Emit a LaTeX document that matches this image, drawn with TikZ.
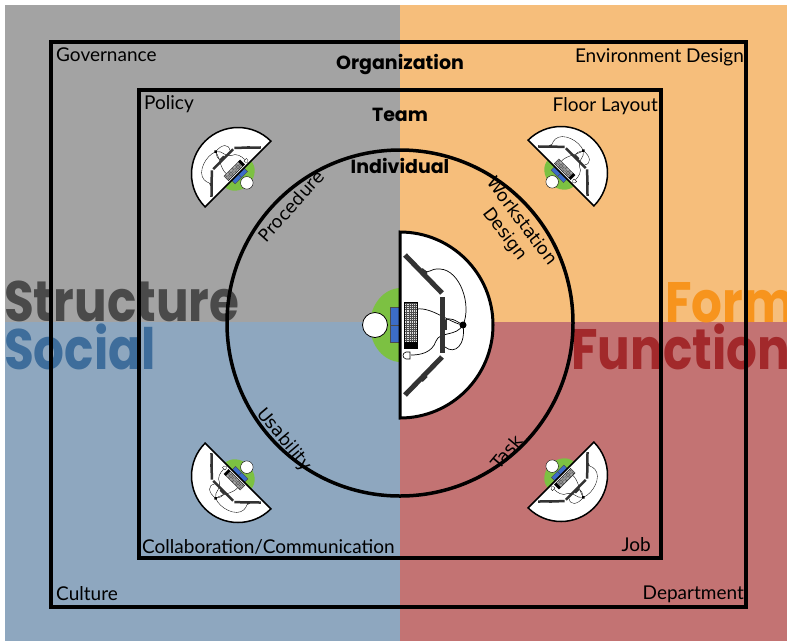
\documentclass[tikz,border=0pt]{standalone}
\usepackage{fontspec}
\newfontfamily\labelfont{Lato}
\newfontfamily\headfont{Poppins}
\newfontfamily\arcfont{DejaVu Sans}
\newfontfamily\bigfont[FakeStretch=0.85]{Poppins}

\definecolor{qgray}{HTML}{A3A3A3}
\definecolor{qorange}{HTML}{F6BE7B}
\definecolor{qblue}{HTML}{8EA7BF}
\definecolor{qred}{HTML}{C37373}
\definecolor{structurecol}{HTML}{4A4A4A}
\definecolor{socialcol}{HTML}{3E6D9B}
\definecolor{formcol}{HTML}{F7941D}
\definecolor{functioncol}{HTML}{A2292B}
\definecolor{chairgreen}{HTML}{7CC142}
\definecolor{armblue}{HTML}{3C6CC8}
\definecolor{panelgray}{HTML}{333333}

% A workstation seen from above: chair and person on the flat side,
% curved desk with panels, keyboard, mouse and cables on the round side.
% #1 scales the line widths.
\newcommand{\deskicon}[1]{%
  \fill[chairgreen] (1,37) arc[start angle=90,end angle=270,x radius=31,y radius=37] -- cycle;
  \filldraw[fill=armblue,draw=black!70,line width={0.8pt*#1}] (-10,-17) rectangle (0,18);
  \draw[black!70,line width={0.8pt*#1}] (-10,0) -- (0,0);
  \filldraw[fill=white,draw=black,line width={0.8pt*#1}] (-25,0) circle[radius=12.5];
  \filldraw[fill=white,draw=black,line width={3pt*#1}] (0,-93) arc[start angle=-90,end angle=90,radius=93] -- cycle;
  % keyboard
  \fill[gray!25] (4,-17) rectangle (17,23);
  \draw[gray!60!black,line width={0.3pt*#1},step=2.2] (4,-17) grid (17,23);
  \draw[black,line width={0.6pt*#1}] (4,-23) rectangle (17,23);
  \fill (4,-17) rectangle (17,-23);
  % cables
  \begin{scope}[line width={0.7pt*#1}]
    \draw (63,0) .. controls (50,2) and (32,18) .. (17,16);
    \draw (63,0) .. controls (56,-12) and (40,-6) .. (36,-16) .. controls (32,-28) and (20,-30) .. (11,-30);
    \draw (63,0) .. controls (72,20) and (60,55) .. (40,56) .. controls (30,57) and (28,50) .. (24,55);
    \draw (63,0) .. controls (55,5) and (50,8) .. (45,5);
    \draw (63,0) .. controls (66,-20) and (55,-30) .. (45,-22);
  \end{scope}
  % mouse
  \draw[line width={0.6pt*#1}] (6,-27) .. controls (2,-28) and (2,-33) .. (6,-34) -- (10,-34) -- (10,-27) -- cycle;
  % desk panels
  \begin{scope}[panelgray,line width={5pt*#1}]
    \draw (5,70) -- (42,32);
    \draw (42,28) -- (42,-28);
    \draw (42,-32) -- (5,-70);
  \end{scope}
  \fill[panelgray] (42,-5) rectangle (47,5);
  \fill[panelgray,rotate around={-45:(22,52)}] (19,52) rectangle (26,56);
  \fill[panelgray,rotate around={45:(22,-52)}] (19,-52) rectangle (26,-56);
  \fill[black] (63,0) circle[radius=3.5];
}

\tikzset{
  frame/.style={draw=black,line width=4pt},
  ring/.style={draw=black,line width=3.5pt},
  corner/.style={font=\labelfont\fontsize{19}{21}\selectfont,inner sep=0pt},
  level/.style={font=\headfont\bfseries\fontsize{19}{21}\selectfont,inner sep=0pt,anchor=base},
  arclabel/.style={font=\arcfont\fontsize{17.5}{21}\selectfont,inner sep=0pt},
  bigword/.style={font=\bigfont\bfseries\fontsize{57}{60}\selectfont,inner sep=0pt,anchor=base west},
}

\begin{document}
\begin{tikzpicture}[x=1pt,y=1pt]
\useasboundingbox (0,0) rectangle (787,-641);
\clip (0,0) rectangle (787,-641);
\fill[white] (0,0) rectangle (787,-641);

% quadrants
\fill[qgray] (5,-5) rectangle (400,-322);
\fill[qorange] (400,-5) rectangle (787,-322);
\fill[qblue] (5,-322) rectangle (400,-641);
\fill[qred] (400,-322) rectangle (787,-641);

% quadrant names
\node[bigword,text=structurecol] (structure) at (4,-321) {Structure};
\node[bigword,text=socialcol] (social) at (4,-369) {Social};
\node[bigword,text=formcol] (form) at (665,-322) {Form};
\node[bigword,text=functioncol] (function) at (571,-369) {Function};

% nested levels
\draw[frame] (51,-42) rectangle (746,-607);
\draw[frame] (139,-90) rectangle (661,-558);
\draw[ring] (400,-323) circle[radius=173];

% workstations
\begin{scope}[shift={(400,-325)}]
  \deskicon{1}
\end{scope}
\begin{scope}[shift={(238,-174)},rotate=135,scale=0.5]
  \deskicon{0.5}
\end{scope}
\begin{scope}[shift={(561,-173)},rotate=45,scale=0.5]
  \deskicon{0.5}
\end{scope}
\begin{scope}[shift={(238,-476)},rotate=225,scale=0.5]
  \deskicon{0.5}
\end{scope}
\begin{scope}[shift={(561,-475)},rotate=-45,scale=0.5]
  \deskicon{0.5}
\end{scope}

% level titles
\node[level] (organization) at (400,-69) {Organization};
\node[level] (team) at (400,-121) {Team};
\node[level] (individual) at (400,-173) {Individual};

% corner labels
\node[corner,anchor=base west] (governance) at (56,-61) {Governance};
\node[corner,anchor=base east] (envdesign) at (744,-62) {Environment Design};
\node[corner,anchor=base west] (policy) at (144,-109) {Policy};
\node[corner,anchor=base east] (floorlayout) at (658,-111) {Floor Layout};
\node[corner,anchor=base west] (collab) at (142,-553) {Collaboration/Communication};
\node[corner,anchor=base east] (job) at (651,-551) {Job};
\node[corner,anchor=base west] (culture) at (56,-600) {Culture};
\node[corner,anchor=base east] (department) at (744,-599) {Department};

% labels inside the ring
\node[arclabel,rotate=48] (procedure) at (291,-206) {Procedure};
\node[arclabel,rotate=-53,align=center] (workstation) at (513,-228) {Workstation\\Design};
\node[arclabel,rotate=-50] (usability) at (284,-440) {Usability};
\node[arclabel,rotate=50] (task) at (507,-452) {Task};
\end{tikzpicture}
\end{document}
